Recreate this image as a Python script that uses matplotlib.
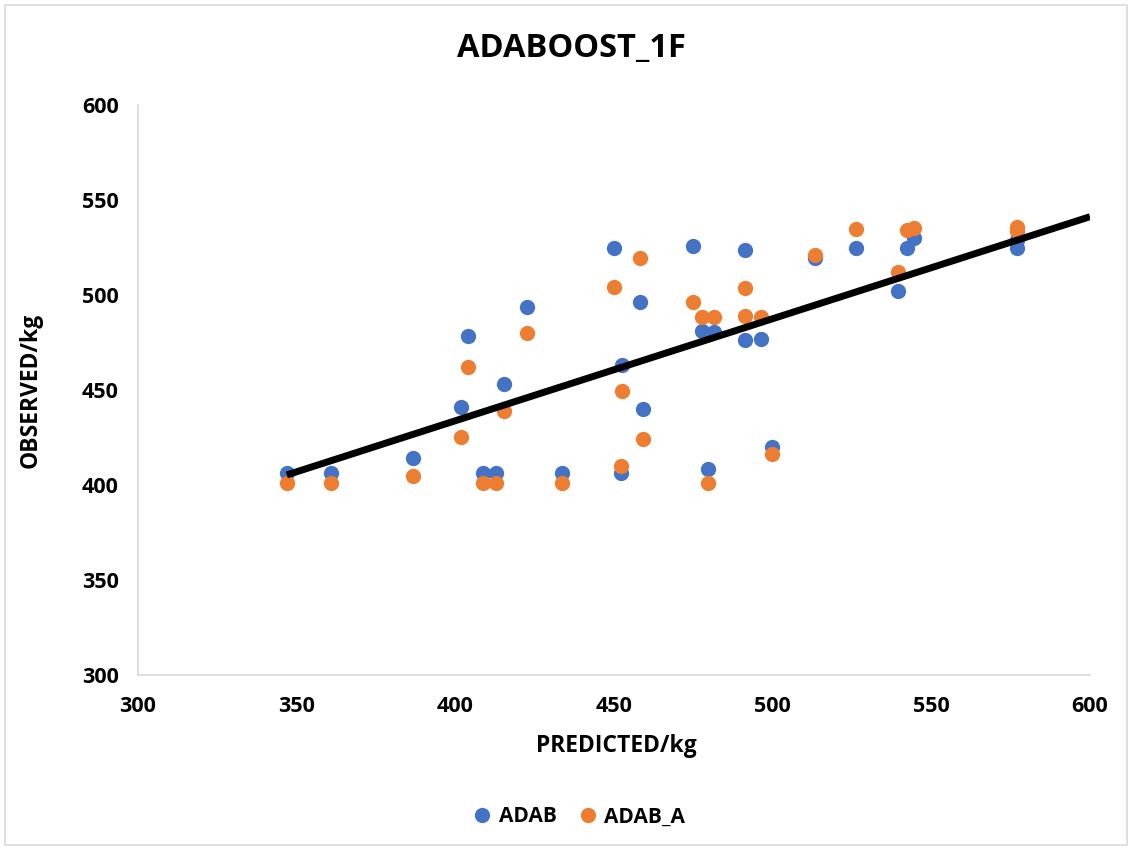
import matplotlib
matplotlib.use("Agg")
import matplotlib.pyplot as plt
import numpy as np
from matplotlib.patches import Rectangle

plt.rcParams['font.family'] = ['Open Sans', 'DejaVu Sans']
plt.rcParams['font.weight'] = 'bold'

# predicted weight (kg), shared by both series
predicted = [346.9, 360.8, 386.7, 401.7, 404.1, 408.6, 412.8, 415.3, 422.7, 433.7,
             450.1, 452.2, 452.4, 458.2, 459.2, 474.8, 477.6, 479.7, 481.6, 491.3,
             491.3, 496.2, 499.7, 513.4, 526.2, 539.6, 542.4, 544.6, 576.9, 576.9]

# observed weight (kg)
obs_adab = [406.3, 406.3, 414.2, 441.2, 478.4, 406.5, 406.5, 453.2, 493.5, 406.5,
            524.6, 406.2, 463.2, 496.5, 440.0, 526.0, 481.1, 408.4, 480.7, 523.7,
            476.3, 476.8, 420.2, 519.5, 524.6, 502.1, 524.6, 530.2, 528.9, 524.6]
obs_adab_a = [401.1, 401.1, 404.7, 425.4, 461.9, 401.2, 401.2, 439.1, 479.8, 401.2,
              504.4, 410.2, 449.6, 519.3, 424.1, 496.2, 488.6, 401.2, 488.6, 503.5,
              488.9, 488.6, 416.2, 521.1, 534.6, 512.3, 534.2, 535.4, 535.9, 533.8]

# linear trend
trend_slope = 0.537
trend_intercept = 219.0

BLUE = '#4472C4'
ORANGE = '#ED7D31'
GRID = '#D9D9D9'

fig = plt.figure(figsize=(11.32, 8.5), dpi=100)
ax = fig.add_axes([0.1219, 0.2059, 0.8410, 0.6706])

ax.plot(predicted, obs_adab, 'o', color=BLUE, markersize=11, markeredgewidth=0,
        label='ADAB', zorder=3)
ax.plot(predicted, obs_adab_a, 'o', color=ORANGE, markersize=11, markeredgewidth=0,
        label='ADAB_A', zorder=3)

tx = np.array([min(predicted), 600])
ax.plot(tx, trend_slope * tx + trend_intercept, color='black', linewidth=5,
        solid_capstyle='butt', zorder=4)

ax.set_xlim(300, 600)
ax.set_ylim(300, 600)
ax.set_xticks(np.arange(300, 601, 50))
ax.set_yticks(np.arange(300, 601, 50))
ax.tick_params(length=0, labelsize=15.5)
ax.tick_params(axis='y', pad=14)
ax.tick_params(axis='x', pad=15)
for lbl in ax.get_xticklabels() + ax.get_yticklabels():
    lbl.set_fontweight('bold')
for s in ['top', 'right']:
    ax.spines[s].set_visible(False)
for s in ['left', 'bottom']:
    ax.spines[s].set_color(GRID)
    ax.spines[s].set_linewidth(1.2)

fig.text(0.505, 1 - 48 / 850, 'ADABOOST_1F', fontsize=23.5, fontweight='bold',
         ha='center', va='center')
ax.set_xlabel('PREDICTED/kg', fontsize=16.5, fontweight='bold')
ax.set_ylabel('OBSERVED/kg', fontsize=16.5, fontweight='bold')
ax.xaxis.set_label_coords(0.502, -0.125)
ax.yaxis.set_label_coords(-0.113, 0.5)
ax.xaxis.label.set_va('center')
ax.yaxis.label.set_va('center')

fig.legend(loc='center', bbox_to_anchor=(0.511, 1 - 817 / 850), ncol=2, frameon=False,
           prop={'size': 15, 'weight': 'bold'}, handlelength=1.0, handletextpad=0.3,
           columnspacing=1.0, markerscale=1.0)

fig.patches.append(Rectangle((5 / 1132, 5 / 850), 1122 / 1132, 840 / 850,
                             transform=fig.transFigure, fill=False,
                             edgecolor=GRID, linewidth=1.2))

fig.savefig('out.png', dpi=100, facecolor='white')
